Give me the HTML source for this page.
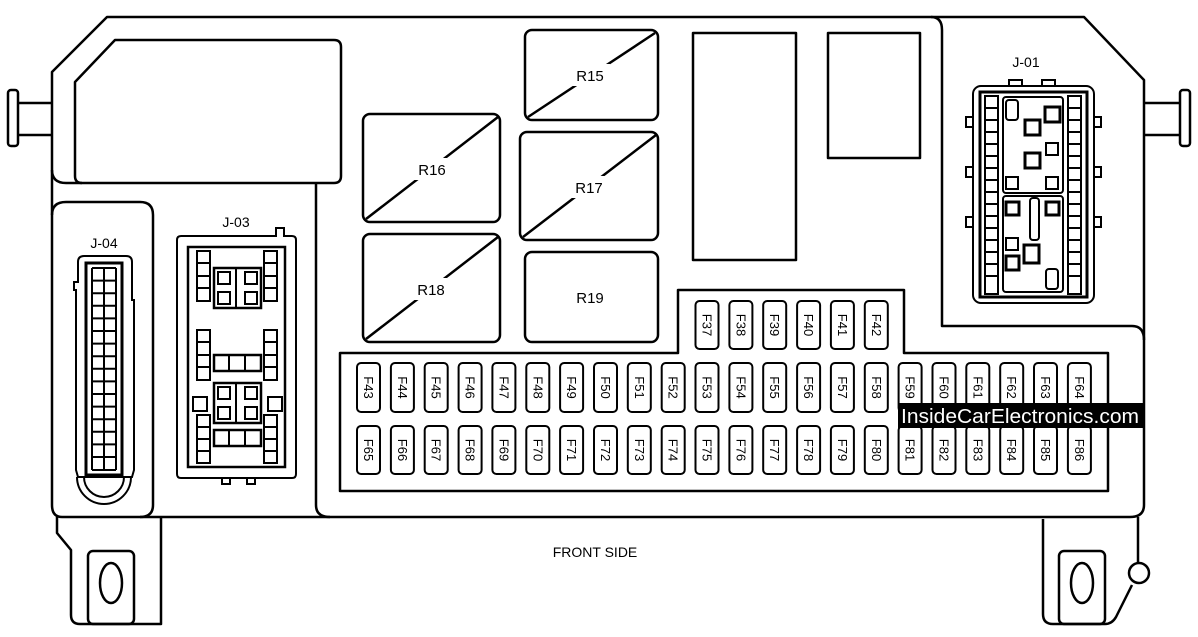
<!DOCTYPE html>
<html><head><meta charset="utf-8"><style>
html,body{margin:0;padding:0;background:#fff;}
svg{display:block;}
text{font-family:"Liberation Sans",sans-serif;fill:#000;}
</style></head><body>
<svg width="1198" height="637" viewBox="0 0 1198 637" xmlns="http://www.w3.org/2000/svg">
<g fill="none" stroke="#000" stroke-width="2.5" stroke-linejoin="round">
<!-- outer body -->
<path d="M107,17 L1084,17 L1144,80 L1144,505 Q1144,517 1130,517 L62,517 Q52,517 52,505 L52,72 Z"/>
<!-- pins -->
<path d="M52,103 L18,103 M52,135 L18,135"/>
<rect x="8" y="90" width="10" height="56" rx="3"/>
<path d="M1144,103 L1180,103 M1144,135 L1180,135"/>
<rect x="1180" y="90" width="10" height="56" rx="3"/>
<!-- top left compartment -->
<path d="M115,40 L334,40 Q341,40 341,47 L341,176 Q341,183 334,183 L82,183 Q75,183 75,176 L75,82 Z"/>
<path d="M52,170 Q52,183 66,183 L82,183"/>
<path d="M316,183 L316,505 Q316,517 330,517"/>
<!-- J-04 compartment -->
<path d="M52,215 Q52,202 66,202 L140,202 Q153,202 153,215 L153,505 Q153,517 140,517"/>
<!-- J-01 region -->
<path d="M931,17 Q942,17 942,30 L942,326 L1132,326 Q1144,326 1144,340"/>
<!-- relays -->
<rect x="363" y="114" width="137" height="108" rx="7"/>
<rect x="363" y="234" width="137" height="108" rx="7"/>
<rect x="525" y="30" width="133" height="90" rx="7"/>
<rect x="520" y="132" width="138" height="108" rx="7"/>
<rect x="525" y="252" width="133" height="90" rx="7"/>
<path d="M366,219 L498,117 M366,339 L498,237 M528,117 L655,33 M523,237 L656,135"/>
<rect x="693" y="33" width="103" height="227"/>
<rect x="828" y="33" width="92" height="125"/>
<!-- fuse box -->
<path d="M340,353 L678,353 L678,290 L904,290 L904,353 L1108,353 L1108,491 L340,491 Z"/>
<!-- bottom tabs -->
<path d="M57,517 L57,533 L71,550 L71,615 Q71,624 80,624 L161,624 L161,517"/>
<rect x="88" y="551" width="46" height="73" rx="5"/>
<ellipse cx="111" cy="583" rx="11" ry="20"/>
<path d="M1043,519 L1043,614 Q1043,624 1053,624 L1105,624 Q1112,624 1116,617 L1132,585"/>
<circle cx="1139" cy="573" r="10"/>
<path d="M1138,563 L1138,517"/>
<rect x="1059" y="551" width="46" height="73" rx="5"/>
<ellipse cx="1082" cy="583" rx="11" ry="20"/>
</g>
<!-- relay labels with white bg -->
<g fill="#fff"><rect x="412" y="158" width="40" height="22"/><rect x="412" y="278" width="40" height="22"/><rect x="570" y="64" width="40" height="22"/><rect x="569" y="176" width="40" height="22"/></g>
<g font-size="15" text-anchor="middle">
<text x="432" y="175">R16</text><text x="431" y="295">R18</text><text x="590" y="81">R15</text><text x="589" y="193">R17</text><text x="590" y="303">R19</text>
<text x="104" y="248" font-size="14">J-04</text><text x="236" y="227" font-size="14">J-03</text><text x="1026" y="67" font-size="14">J-01</text>
<text x="595" y="557" font-size="14">FRONT SIDE</text>
</g>
<!-- J-04 connector -->
<g fill="none" stroke="#000" stroke-width="2">
<path d="M78,262 Q78,256 84,256 L126,256 Q132,256 132,262 L132,300 L134,300 L134,470 L132,477 L78,477 L76,470 L76,290 L74,290 L74,282 L78,282 Z"/>
<rect x="86" y="263" width="36" height="212" stroke-width="3"/>
<path d="M92,268 V470 M104,268 V470 M116,268 V470 M92,268 H116 M92,280.6 H116 M92,293.2 H116 M92,305.8 H116 M92,318.4 H116 M92,331 H116 M92,343.6 H116 M92,356.2 H116 M92,368.8 H116 M92,381.4 H116 M92,394 H116 M92,406.6 H116 M92,419.2 H116 M92,431.8 H116 M92,444.4 H116 M92,457 H116 M92,470 H116"/>
<path d="M77,477 A27,27 0 0 0 131,477 M84,477 A20,20 0 0 0 124,477"/>
</g>
<!-- J-03 connector -->
<g fill="none" stroke="#000" stroke-width="2">
<path d="M177,240 Q177,236 181,236 L276,236 L276,228 L284,228 L284,236 L292,236 Q296,236 296,240 L296,474 Q296,478 292,478 L181,478 Q177,478 177,474 Z"/>
<path d="M222,478 V484 H230 V478 M247,478 V484 H255 V478"/>
<rect x="188" y="247" width="97" height="220" stroke-width="2.5"/>
<path d="M197,251 h13 v50 h-13 z M197,263 h13 M197,276 h13 M197,288 h13"/>
<path d="M264,251 h13 v50 h-13 z M264,263 h13 M264,276 h13 M264,288 h13"/>
<path d="M197,330 h13 v50 h-13 z M197,342 h13 M197,355 h13 M197,367 h13"/>
<path d="M264,330 h13 v50 h-13 z M264,342 h13 M264,355 h13 M264,367 h13"/>
<path d="M197,415 h13 v48 h-13 z M197,427 h13 M197,439 h13 M197,451 h13"/>
<path d="M264,415 h13 v48 h-13 z M264,427 h13 M264,439 h13 M264,451 h13"/>
<rect x="214" y="268" width="47" height="40" stroke-width="2.5"/>
<rect x="218" y="272" width="12" height="12"/><rect x="245" y="272" width="12" height="12"/><rect x="218" y="292" width="12" height="12"/><rect x="245" y="292" width="12" height="12"/>
<path d="M236,268 V308"/>
<rect x="214" y="355" width="47" height="16" stroke-width="2.5"/><path d="M229,355 V371 M245,355 V371"/>
<rect x="214" y="383" width="47" height="40" stroke-width="2.5"/>
<rect x="218" y="387" width="12" height="12"/><rect x="245" y="387" width="12" height="12"/><rect x="218" y="407" width="12" height="12"/><rect x="245" y="407" width="12" height="12"/>
<path d="M236,383 V423"/>
<rect x="214" y="430" width="47" height="16" stroke-width="2.5"/><path d="M229,430 V446 M245,430 V446"/>
<rect x="193" y="397" width="14" height="14"/><rect x="268" y="397" width="14" height="14"/>
</g>
<!-- J-01 connector -->
<g fill="none" stroke="#000" stroke-width="2">
<path d="M1009,86 V80 H1022 V86 M1042,86 V80 H1055 V86"/>
<path d="M973,117 H966 V127 H973 M973,167 H966 V177 H973 M973,217 H966 V227 H973 M1094,117 H1101 V127 H1094 M1094,167 H1101 V177 H1094 M1094,217 H1101 V227 H1094"/>
<rect x="973" y="86" width="121" height="217" rx="8"/>
<rect x="980" y="92" width="107" height="205" stroke-width="3"/>
<path d="M985,96 h13 v198 h-13 z M985,108 h13 M985,120 h13 M985,132 h13 M985,144 h13 M985,156 h13 M985,168 h13 M985,180 h13 M985,192 h13 M985,204 h13 M985,216 h13 M985,228 h13 M985,240 h13 M985,252 h13 M985,264 h13 M985,276 h13"/>
<path d="M1068,96 h13 v198 h-13 z M1068,108 h13 M1068,120 h13 M1068,132 h13 M1068,144 h13 M1068,156 h13 M1068,168 h13 M1068,180 h13 M1068,192 h13 M1068,204 h13 M1068,216 h13 M1068,228 h13 M1068,240 h13 M1068,252 h13 M1068,264 h13 M1068,276 h13"/>
<rect x="1003" y="97" width="60" height="96" rx="3"/>
<rect x="1003" y="196" width="60" height="96" rx="3"/>
<rect x="1006" y="100" width="12" height="20" rx="3"/>
<rect x="1045" y="107" width="15" height="15" stroke-width="3"/>
<rect x="1025" y="120" width="15" height="15" stroke-width="3"/>
<rect x="1046" y="143" width="12" height="12"/>
<rect x="1025" y="153" width="15" height="15" stroke-width="3"/>
<rect x="1006" y="177" width="12" height="12"/><rect x="1046" y="177" width="12" height="12"/>
<rect x="1006" y="202" width="13" height="13" stroke-width="3"/><rect x="1046" y="202" width="13" height="13" stroke-width="3"/>
<rect x="1030" y="198" width="9" height="42" rx="3"/>
<rect x="1006" y="238" width="12" height="12"/><rect x="1006" y="256" width="13" height="14" stroke-width="3"/>
<rect x="1024" y="245" width="15" height="18" stroke-width="3"/>
<rect x="1046" y="269" width="12" height="20" rx="3"/>
</g>
<!-- fuses -->
<g fill="none" stroke="#000" stroke-width="2">
<rect x="357" y="363" width="23" height="49" rx="4"/><rect x="390.9" y="363" width="23" height="49" rx="4"/><rect x="424.7" y="363" width="23" height="49" rx="4"/><rect x="458.6" y="363" width="23" height="49" rx="4"/><rect x="492.4" y="363" width="23" height="49" rx="4"/><rect x="526.3" y="363" width="23" height="49" rx="4"/><rect x="560.1" y="363" width="23" height="49" rx="4"/><rect x="594" y="363" width="23" height="49" rx="4"/><rect x="627.8" y="363" width="23" height="49" rx="4"/><rect x="661.7" y="363" width="23" height="49" rx="4"/><rect x="695.5" y="363" width="23" height="49" rx="4"/><rect x="729.4" y="363" width="23" height="49" rx="4"/><rect x="763.2" y="363" width="23" height="49" rx="4"/><rect x="797.1" y="363" width="23" height="49" rx="4"/><rect x="830.9" y="363" width="23" height="49" rx="4"/><rect x="864.8" y="363" width="23" height="49" rx="4"/><rect x="898.6" y="363" width="23" height="49" rx="4"/><rect x="932.5" y="363" width="23" height="49" rx="4"/><rect x="966.3" y="363" width="23" height="49" rx="4"/><rect x="1000.2" y="363" width="23" height="49" rx="4"/><rect x="1034" y="363" width="23" height="49" rx="4"/><rect x="1067.9" y="363" width="23" height="49" rx="4"/>
<rect x="357" y="426" width="23" height="48" rx="4"/><rect x="390.9" y="426" width="23" height="48" rx="4"/><rect x="424.7" y="426" width="23" height="48" rx="4"/><rect x="458.6" y="426" width="23" height="48" rx="4"/><rect x="492.4" y="426" width="23" height="48" rx="4"/><rect x="526.3" y="426" width="23" height="48" rx="4"/><rect x="560.1" y="426" width="23" height="48" rx="4"/><rect x="594" y="426" width="23" height="48" rx="4"/><rect x="627.8" y="426" width="23" height="48" rx="4"/><rect x="661.7" y="426" width="23" height="48" rx="4"/><rect x="695.5" y="426" width="23" height="48" rx="4"/><rect x="729.4" y="426" width="23" height="48" rx="4"/><rect x="763.2" y="426" width="23" height="48" rx="4"/><rect x="797.1" y="426" width="23" height="48" rx="4"/><rect x="830.9" y="426" width="23" height="48" rx="4"/><rect x="864.8" y="426" width="23" height="48" rx="4"/><rect x="898.6" y="426" width="23" height="48" rx="4"/><rect x="932.5" y="426" width="23" height="48" rx="4"/><rect x="966.3" y="426" width="23" height="48" rx="4"/><rect x="1000.2" y="426" width="23" height="48" rx="4"/><rect x="1034" y="426" width="23" height="48" rx="4"/><rect x="1067.9" y="426" width="23" height="48" rx="4"/>
<rect x="695.5" y="301" width="23" height="48" rx="4"/><rect x="729.4" y="301" width="23" height="48" rx="4"/><rect x="763.2" y="301" width="23" height="48" rx="4"/><rect x="797.1" y="301" width="23" height="48" rx="4"/><rect x="830.9" y="301" width="23" height="48" rx="4"/><rect x="864.8" y="301" width="23" height="48" rx="4"/>
</g>
<g font-size="13" text-anchor="middle" dominant-baseline="central">
<text transform="translate(368.5,387.5) rotate(90)">F43</text><text transform="translate(402.4,387.5) rotate(90)">F44</text><text transform="translate(436.2,387.5) rotate(90)">F45</text><text transform="translate(470.1,387.5) rotate(90)">F46</text><text transform="translate(503.9,387.5) rotate(90)">F47</text><text transform="translate(537.8,387.5) rotate(90)">F48</text><text transform="translate(571.6,387.5) rotate(90)">F49</text><text transform="translate(605.5,387.5) rotate(90)">F50</text><text transform="translate(639.3,387.5) rotate(90)">F51</text><text transform="translate(673.2,387.5) rotate(90)">F52</text><text transform="translate(707,387.5) rotate(90)">F53</text><text transform="translate(740.9,387.5) rotate(90)">F54</text><text transform="translate(774.7,387.5) rotate(90)">F55</text><text transform="translate(808.6,387.5) rotate(90)">F56</text><text transform="translate(842.4,387.5) rotate(90)">F57</text><text transform="translate(876.3,387.5) rotate(90)">F58</text><text transform="translate(910.1,387.5) rotate(90)">F59</text><text transform="translate(944,387.5) rotate(90)">F60</text><text transform="translate(977.8,387.5) rotate(90)">F61</text><text transform="translate(1011.7,387.5) rotate(90)">F62</text><text transform="translate(1045.5,387.5) rotate(90)">F63</text><text transform="translate(1079.4,387.5) rotate(90)">F64</text>
<text transform="translate(368.5,450) rotate(90)">F65</text><text transform="translate(402.4,450) rotate(90)">F66</text><text transform="translate(436.2,450) rotate(90)">F67</text><text transform="translate(470.1,450) rotate(90)">F68</text><text transform="translate(503.9,450) rotate(90)">F69</text><text transform="translate(537.8,450) rotate(90)">F70</text><text transform="translate(571.6,450) rotate(90)">F71</text><text transform="translate(605.5,450) rotate(90)">F72</text><text transform="translate(639.3,450) rotate(90)">F73</text><text transform="translate(673.2,450) rotate(90)">F74</text><text transform="translate(707,450) rotate(90)">F75</text><text transform="translate(740.9,450) rotate(90)">F76</text><text transform="translate(774.7,450) rotate(90)">F77</text><text transform="translate(808.6,450) rotate(90)">F78</text><text transform="translate(842.4,450) rotate(90)">F79</text><text transform="translate(876.3,450) rotate(90)">F80</text><text transform="translate(910.1,450) rotate(90)">F81</text><text transform="translate(944,450) rotate(90)">F82</text><text transform="translate(977.8,450) rotate(90)">F83</text><text transform="translate(1011.7,450) rotate(90)">F84</text><text transform="translate(1045.5,450) rotate(90)">F85</text><text transform="translate(1079.4,450) rotate(90)">F86</text>
<text transform="translate(707,325) rotate(90)">F37</text><text transform="translate(740.9,325) rotate(90)">F38</text><text transform="translate(774.7,325) rotate(90)">F39</text><text transform="translate(808.6,325) rotate(90)">F40</text><text transform="translate(842.4,325) rotate(90)">F41</text><text transform="translate(876.3,325) rotate(90)">F42</text>
</g>
<!-- watermark -->
<rect x="898" y="403" width="245" height="25" fill="#000"/>
<text x="1020" y="423" font-size="20" text-anchor="middle" style="fill:#fff" textLength="238" lengthAdjust="spacingAndGlyphs">InsideCarElectronics.com</text>
</svg>
</body></html>
